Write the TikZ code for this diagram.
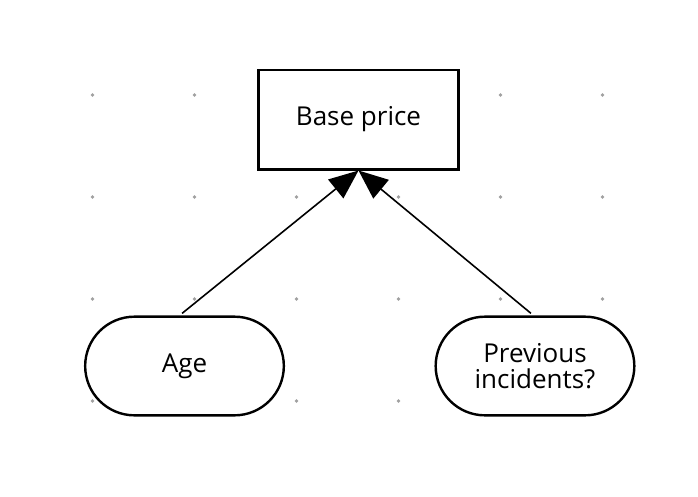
\documentclass[tikz,border=0pt]{standalone}
\usepackage{fontspec}
\setmainfont{Open Sans}
\usetikzlibrary{shapes.misc,arrows.meta}

\begin{document}
\begin{tikzpicture}[x=0.75pt,y=0.75pt,yscale=-1,xscale=1,
    factor/.style={draw,line width=1.8pt,fill=white,rounded rectangle,minimum width=149pt,minimum height=74pt,inner sep=0pt,align=center,font=\fontsize{19.5}{19}\selectfont},
    result/.style={draw,line width=2pt,fill=white,rectangle,minimum width=150pt,minimum height=74.5pt,inner sep=0pt,font=\fontsize{19.5}{20}\selectfont},
    link/.style={line width=1.2pt,-{Triangle[length=22pt,width=18pt]},shorten <=2.5}]
\useasboundingbox (0,0) rectangle (698,496);
%Grid dots
\foreach \gx in {92.5,194.5,296.5,398.5,500.5,602.5}
  \foreach \gy in {95,197,299,401}
    \fill [color={rgb, 255:red, 160; green, 160; blue, 160 }] (\gx,\gy) circle (1.9);
%Nodes
\node [result] (base) at (358.5,119.5) {Base price};
\node [factor] (age) at (184.5,366) {Age};
\node [factor] (incidents) at (535,366) {Previous\\incidents?};
%Arrows
\draw [link] (age.north) ++(-5,0) coordinate (agetop) (agetop) -- (base.south);
\draw [link] (incidents.north) ++(-1.5,0) coordinate (inctop) (inctop) -- (base.south);
\end{tikzpicture}
\end{document}
